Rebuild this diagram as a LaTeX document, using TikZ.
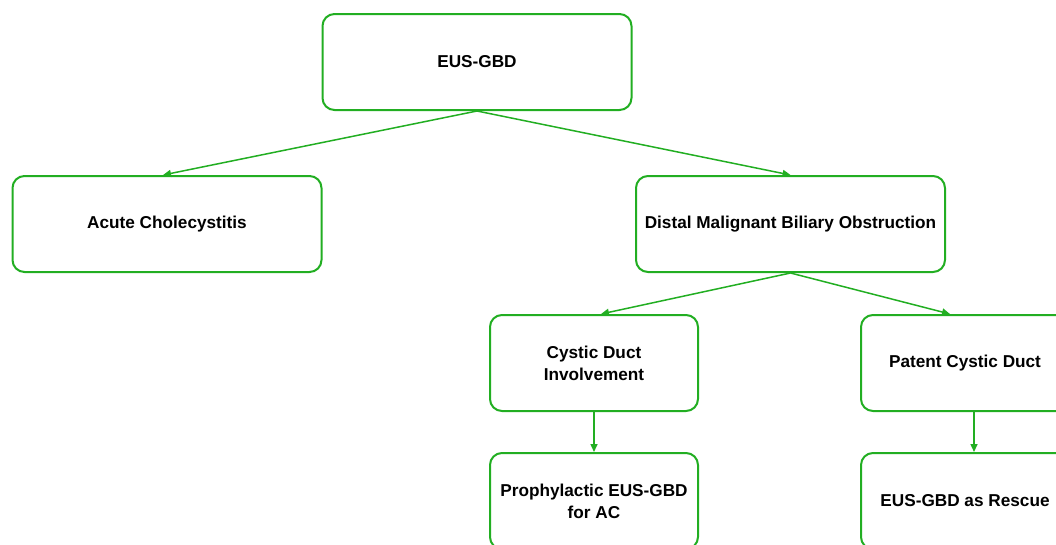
\documentclass[tikz,border=0pt]{standalone}
\usepackage{fontspec}
\setmainfont{Liberation Sans}
\usetikzlibrary{arrows.meta}
\definecolor{grn}{RGB}{34,174,34}
\tikzset{
  box/.style={draw=grn, line width=2pt, rounded corners=12pt, fill=white,
    minimum height=96pt, inner sep=2pt, align=center, text=black,
    font=\bfseries\fontsize{17.2}{22}\selectfont},
  wide/.style={box, minimum width=309pt},
  narrow/.style={box, minimum width=208pt},
  conn/.style={draw=grn, line width=1.5pt, -{Triangle[length=8pt,width=7pt]}}
}
\begin{document}
\begin{tikzpicture}[x=1pt,y=-1pt]
\useasboundingbox (0,0) rectangle (1056,544);
\clip (0,0) rectangle (1056,544);
\node[wide] (top) at (477,62) {EUS-GBD};
\node[wide] (acute) at (167,224) {Acute Cholecystitis};
\node[wide] (distal) at (790.5,224) {Distal Malignant Biliary Obstruction};
\node[narrow] (cystic) at (594,363) {Cystic Duct\\Involvement};
\node[narrow] (patent) at (965,363) {Patent Cystic Duct};
\node[narrow] (proph) at (594,501) {Prophylactic EUS-GBD\\for AC};
\node[narrow] (rescue) at (965,501) {EUS-GBD as Rescue};
\draw[conn] (top.south) -- ([xshift=-4pt]acute.north);
\draw[conn] (top.south) -- (distal.north);
\draw[conn] (distal.south) -- ([xshift=7pt]cystic.north);
\draw[conn] (distal.south) -- ([xshift=-15pt]patent.north);
\draw[conn] (cystic.south) -- (proph.north);
\draw[conn] ([xshift=9pt]patent.south) -- ([xshift=9pt]rescue.north);
\end{tikzpicture}
\end{document}
